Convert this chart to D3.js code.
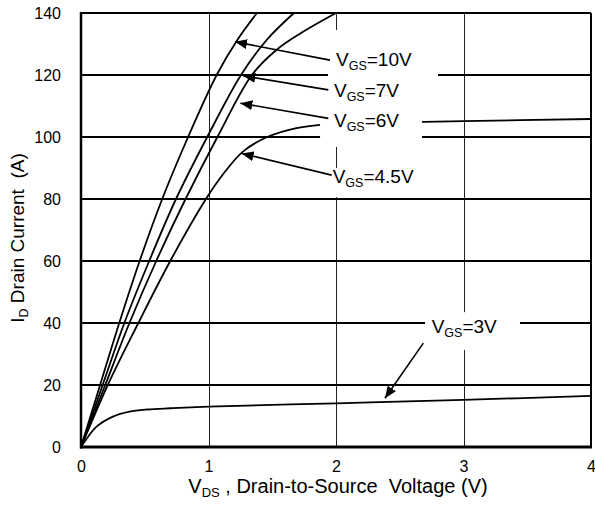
<!DOCTYPE html>
<html><head><meta charset="utf-8">
<script src="https://cdn.jsdelivr.net/npm/d3@7"></script>
<style>
html,body{margin:0;padding:0;background:#fff;}
svg{display:block;font-family:"Liberation Sans",Arial,sans-serif;}
</style></head>
<body><svg id="c" width="595" height="505"></svg>
<script>
// ---- data (V_DS in volts, I_D in amps) ----
const xTicks = [0,1,2,3,4];
const yTicks = [0,20,40,60,80,100,120,140];
const vgs10  = [[0,0],[0.15,20],[0.30,40],[0.46,60],[0.637,80],[0.84,100],[1.064,120],[1.226,131.3],[1.38,140]];
const vgs7   = [[0,0],[0.17,20],[0.34,40],[0.535,60],[0.745,80],[0.99,100],[1.255,120],[1.456,131.3],[1.67,140]];
const vgs6   = [[0,0],[0.19,20],[0.38,40],[0.59,60],[0.82,80],[1.07,100],[1.34,120],[1.53,128],[1.72,133.4],[2.0,140]];
const vgs45  = [[0,0],[0.21,20],[0.45,40],[0.70,60],[0.98,80],[1.12,88.3],[1.27,95.3],[1.46,100],[1.69,102.9],[1.93,104.1],[2.5,104.7],[3,105.1],[4,105.8]];
const vgs3   = [[0,0],[0.05,3],[0.12,6.5],[0.25,9.8],[0.38,11.4],[0.52,12.1],[0.7,12.5],[1,13],[2,14.1],[3,15.2],[4,16.5]];
const series = [vgs10, vgs7, vgs6, vgs45, vgs3];
// labels: VGS value, label anchor, arrow start, arrow tip (all in V, A)
const labelNames = ["10V","7V","6V","4.5V","3V"];
const labelPos   = [[2.0,123],[1.984,113],[1.984,103.3],[1.974,85.1],[2.75,36.7]];
const arrowFrom  = [[1.953,124.8],[1.940,115.2],[1.940,106.0],[1.966,87.7],[2.685,33.5]];
const arrowTo    = [[1.208,130.7],[1.273,119.7],[1.250,110.9],[1.260,94.7],[2.384,15.7]];
// white label backgrounds [v0,v1,i0,i1]
const masks = [[1.937,2.8,119.4,134.5],[1.937,2.737,110.3,119.4],[1.875,2.675,96.8,110.3],[1.937,2.659,80.6,90],[2.698,3.443,31.3,43.5]];

const svg = d3.select("#c");
const x = d3.scaleLinear().domain([0,4]).range([81,591]);
const y = d3.scaleLinear().domain([0,140]).range([447,13]);

// vertical grid
svg.append("g").selectAll("line").data([1,2,3]).join("line")
  .attr("x1",d=>Math.round(x(d))+0.5).attr("x2",d=>Math.round(x(d))+0.5)
  .attr("y1",y(140)).attr("y2",y(0)).attr("stroke","#222").attr("stroke-width",1);
// horizontal grid
svg.append("g").selectAll("line").data(yTicks.filter(d=>d>0&&d<140)).join("line")
  .attr("x1",x(0)).attr("x2",x(4)).attr("y1",d=>y(d)).attr("y2",d=>y(d))
  .attr("stroke","#000").attr("stroke-width",2);

// curves
const line = d3.line().x(d=>x(d[0])).y(d=>y(d[1])).curve(d3.curveCatmullRom.alpha(0.5));
svg.append("g").selectAll("path").data(series).join("path")
  .attr("d",line).attr("fill","none").attr("stroke","#000").attr("stroke-width",1.8);

// masks
svg.append("g").selectAll("rect").data(masks).join("rect")
  .attr("x",d=>x(d[0])).attr("width",d=>x(d[1])-x(d[0]))
  .attr("y",d=>y(d[3])).attr("height",d=>y(d[2])-y(d[3])).attr("fill","#fff");

// labels
const lg = svg.append("g").attr("font-size",19).attr("fill","#000");
labelNames.forEach((n,i)=>{
  const t = lg.append("text").attr("x",x(labelPos[i][0])).attr("y",y(labelPos[i][1]));
  t.append("tspan").text("V");
  t.append("tspan").attr("font-size",12.5).attr("dy",4).text("GS");
  t.append("tspan").attr("dy",-4).text("="+n);
});

// arrows
const defs = svg.append("defs");
defs.append("marker").attr("id","ah").attr("viewBox","0 0 12 10").attr("refX",12).attr("refY",5)
  .attr("markerWidth",12).attr("markerHeight",10).attr("markerUnits","userSpaceOnUse").attr("orient","auto")
  .append("path").attr("d","M0,0L12,5L0,10Z").attr("fill","#000");
svg.append("g").selectAll("line").data(arrowFrom.map((f,i)=>[f,arrowTo[i]])).join("line")
  .attr("x1",d=>x(d[0][0])).attr("y1",d=>y(d[0][1]))
  .attr("x2",d=>x(d[1][0])).attr("y2",d=>y(d[1][1]))
  .attr("stroke","#000").attr("stroke-width",1.6).attr("marker-end","url(#ah)");

// frame
svg.append("line").attr("x1",x(0)).attr("x2",x(4)).attr("y1",y(140)).attr("y2",y(140)).attr("stroke","#000").attr("stroke-width",2);
svg.append("line").attr("x1",x(4)).attr("x2",x(4)).attr("y1",y(140)).attr("y2",y(0)).attr("stroke","#000").attr("stroke-width",2);
svg.append("line").attr("x1",x(0)).attr("x2",x(0)).attr("y1",y(140)-1).attr("y2",y(0)+1.5).attr("stroke","#000").attr("stroke-width",2.5);
svg.append("line").attr("x1",x(0)-1).attr("x2",x(4)+1).attr("y1",y(0)).attr("y2",y(0)).attr("stroke","#000").attr("stroke-width",3);

// axes (labels only)
const ax = svg.append("g").attr("transform",`translate(0,${y(0)})`)
  .call(d3.axisBottom(x).tickValues(xTicks).tickSize(0).tickPadding(14).tickFormat(d3.format("d")));
const ay = svg.append("g").attr("transform",`translate(${x(0)},0)`)
  .call(d3.axisLeft(y).tickValues(yTicks).tickSize(0).tickPadding(20).tickFormat(d3.format("d")));
[ax,ay].forEach(a=>{a.select(".domain").remove(); a.selectAll("text").attr("font-size",16).attr("font-family","Liberation Sans, Arial, sans-serif").attr("fill","#000");});

// axis titles
const xt = svg.append("text").attr("x",338).attr("y",493).attr("text-anchor","middle").attr("font-size",20);
xt.append("tspan").text("V");
xt.append("tspan").attr("font-size",13).attr("dy",4).text("DS");
xt.append("tspan").attr("dy",-4).text(" , Drain-to-Source\u00a0 Voltage (V)");

const yt = svg.append("text").attr("transform","translate(24,238) rotate(-90)").attr("text-anchor","middle").attr("font-size",19);
yt.append("tspan").text("I");
yt.append("tspan").attr("font-size",12.5).attr("dy",4).text("D");
yt.append("tspan").attr("dy",-4).text(" Drain Current\u00a0 (A)");
</script></body></html>
